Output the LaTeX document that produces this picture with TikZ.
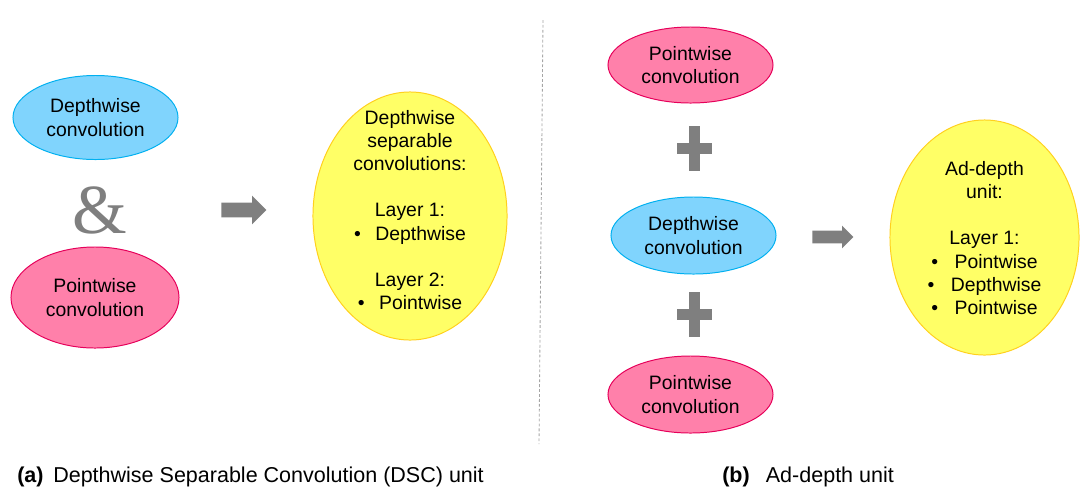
\documentclass[tikz,border=0pt]{standalone}
\usepackage{fontspec}
\setmainfont{Liberation Sans}
\newfontfamily\ampfont{Liberation Serif}
\usetikzlibrary{positioning,shapes.geometric,shapes.arrows}
\definecolor{dwfill}{RGB}{128,212,253}
\definecolor{dwline}{RGB}{0,176,240}
\definecolor{pwfill}{RGB}{255,128,170}
\definecolor{pwline}{RGB}{230,0,90}
\definecolor{unfill}{RGB}{255,255,102}
\definecolor{unline}{RGB}{255,208,30}
\definecolor{opgrey}{RGB}{127,127,127}
\tikzset{
    blob/.style={
        ellipse,draw=#1line,line width=0.7pt,fill=#1fill,inner sep=0pt,
        align=center,font=\fontsize{13.8}{16.5}\selectfont
    },
    blob/.default=dw,
    blobtext/.style={
        align=center,inner sep=0pt,font=\fontsize{13.8}{16.5}\selectfont
    },
    bigarrow/.style={
        single arrow,fill=opgrey,draw=none,inner xsep=0pt,anchor=tail
    },
    sepline/.style={
        draw=opgrey!70,line width=0.6pt,dash pattern=on 2pt off 1.5pt
    },
    caption/.style={
        anchor=base west,inner sep=0pt,font=\fontsize{15.3}{18}\selectfont
    }
}

\begin{document}
\begin{tikzpicture}[x=0.025cm,y=-0.025cm]
\useasboundingbox (0,0) rectangle (1092,502);

\node[blob=dw,minimum width=4.125cm,minimum height=2.1cm]
(dwa) at (95.5,117.5) {Depthwise\\convolution};

\node[text=opgrey,font=\ampfont\fontsize{50}{50}\selectfont,inner sep=0pt]
(amp) at (100,210) {\&};

\node[blob=pw,minimum width=4.2cm,minimum height=2.525cm]
(pwa) at (95,297.5) {Pointwise\\convolution};

\node[bigarrow,inner ysep=0.175cm,single arrow head extend=0.175cm,
minimum height=1.125cm]
(arra) at (221,210) {};

\node[blob=un,minimum width=4.85cm,minimum height=6.2cm]
(dsc) at (410,216) {};
\node[blobtext]
(dsctext) at (410,210)
{
Depthwise\\
separable\\
convolutions:\\[16.5pt]
Layer 1:\\
•\hspace{0.75em}Depthwise\\[16.5pt]
Layer 2:\\
•\hspace{0.75em}Pointwise
};

\coordinate (septop) at (543,20);
\coordinate (sepbot) at (539,444);
\draw[sepline] (septop) -- (sepbot);

\node[blob=pw,minimum width=4.125cm,minimum height=1.9cm]
(pwtop) at (690.5,65) {Pointwise\\convolution};

\node[blob=dw,minimum width=4.125cm,minimum height=1.925cm]
(dwb) at (693.5,235.5) {Depthwise\\convolution};

\node[blob=pw,minimum width=4.125cm,minimum height=1.925cm]
(pwbot) at (690.5,394.5) {Pointwise\\convolution};

\foreach \y in {148.5,314.5}{
    \fill[opgrey] (676.5,\y-5.5) rectangle (711.5,\y+5.5);
    \fill[opgrey] (688.5,\y-22.5) rectangle (699.5,\y+22.5);
}

\node[bigarrow,inner ysep=0.15cm,single arrow head extend=0.125cm,
minimum height=1.025cm]
(arrb) at (812,237) {};

\node[blob=un,minimum width=4.725cm,minimum height=5.875cm]
(adu) at (984.5,237.5) {};
\node[blobtext]
(adutext) at (984.5,238)
{
Ad-depth\\
unit:\\[16.5pt]
Layer 1:\\
•\hspace{0.85em}Pointwise\\
•\hspace{0.85em}Depthwise\\
•\hspace{0.85em}Pointwise
};

\node[caption] (capa) at (17,482)
{\textbf{(a)}\hspace{0.45em}Depthwise Separable Convolution (DSC) unit};
\node[caption] (capb) at (722,482)
{\textbf{(b)}\hspace{0.75em}Ad-depth unit};

\end{tikzpicture}
\end{document}
